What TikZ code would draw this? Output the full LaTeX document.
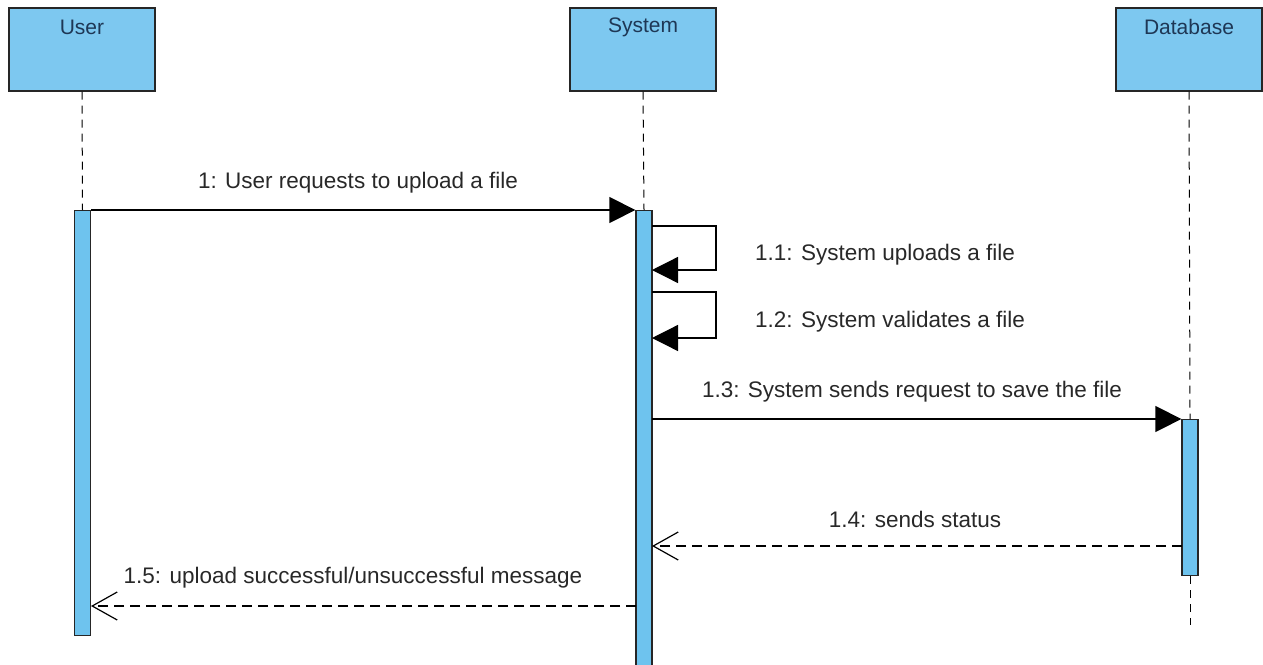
\documentclass[tikz,border=0pt]{standalone}
\usepackage{fontspec}
\setmainfont{Liberation Sans}
\usetikzlibrary{arrows.meta}
\definecolor{headfill}{RGB}{125,200,240}
\definecolor{barfill}{RGB}{110,195,238}
\definecolor{headtext}{RGB}{30,55,85}
\definecolor{msgtext}{RGB}{40,40,40}
\tikzset{
  x=1pt, y=-1pt,
  head/.style={draw=black!85, line width=1.6pt, fill=headfill, minimum width=146pt,
    minimum height=83pt, anchor=north, inner sep=0pt},
  headlabel/.style={font=\fontsize{21}{24}\selectfont, text=headtext, inner sep=0pt},
  bar/.style={draw=black!85, line width=1.3pt, fill=barfill, minimum width=16pt,
    anchor=north, inner sep=0pt},
  life/.style={black, line width=1pt, dash pattern=on 8pt off 6pt},
  msg/.style={black, line width=1.3pt, -{Triangle[length=26pt,width=26pt]}},
  reply/.style={black, line width=1.2pt, dash pattern=on 10pt off 6pt,
    -{Straight Barb[length=25pt,width=28pt,line width=1.2pt]}},
  lbl/.style={font=\fontsize{22.5}{25}\selectfont, text=msgtext, inner sep=0pt}
}
\begin{document}
\begin{tikzpicture}
\useasboundingbox (0,0) rectangle (1263,664);
% lifeline heads
\node[head] (u) at (82,7) {};
\node[head] (s) at (643,7) {};
\node[head] (d) at (1189,7) {};
\node[headlabel] (ut) at (82,27) {User};
\node[headlabel] (st) at (643,27) {System};
\node[headlabel] (dt) at (1189,27) {Database};
% activation bars
\node[bar, minimum height=425pt] (ub) at (82.5,210) {};
\node[bar, minimum height=460pt] (sb) at (644,210) {};
\node[bar, minimum height=156pt] (db) at (1190,419) {};
% dashed lifelines
\coordinate (dend) at (1190,625);
\draw[life] (u.south) -- (ub.north);
\draw[life] (s.south) -- (sb.north);
\draw[life] (d.south) -- (db.north);
\draw[life] (db.south) -- (dend);
% 1: request
\draw[msg] (ub.north east) -- (sb.north west);
\node[lbl] (m1) at (358,183) {1: User requests to upload a file};
% 1.1 and 1.2: self calls
\coordinate (a1) at (652,226);
\coordinate (a2) at (652,270);
\coordinate (b1) at (652,292);
\coordinate (b2) at (652,338);
\draw[msg] (a1) -- ++(64,0) |- (a2);
\draw[msg] (b1) -- ++(64,0) |- (b2);
\node[lbl, anchor=west] (m11) at (755,255) {1.1: System uploads a file};
\node[lbl, anchor=west] (m12) at (755,322) {1.2: System validates a file};
% 1.3: save request
\coordinate (c1) at (652,419);
\draw[msg] (c1) -- (db.north west);
\node[lbl] (m13) at (912,392) {1.3: System sends request to save the file};
% 1.4: status reply
\coordinate (r1) at (1182,546);
\coordinate (r2) at (652,546);
\draw[reply] (r1) -- (r2);
\node[lbl] (m14) at (915,519) {1.4: sends status};
% 1.5: result back to the user
\coordinate (q1) at (636,606);
\coordinate (q2) at (91,606);
\draw[reply] (q1) -- (q2);
\node[lbl] (m15) at (353,578) {1.5: upload successful/unsuccessful message};
\end{tikzpicture}
\end{document}
